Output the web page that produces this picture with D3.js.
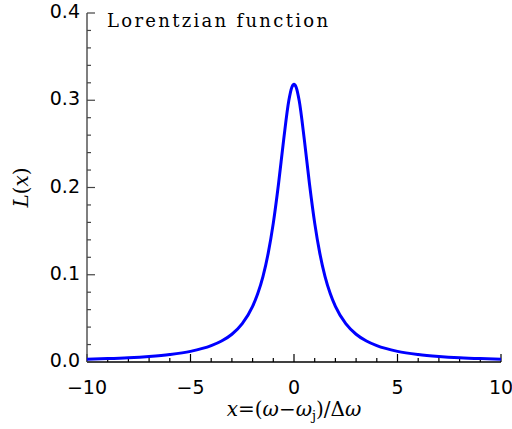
<!DOCTYPE html>
<meta charset="utf-8">
<script src="https://d3js.org/d3.v7.min.js"></script>
<style>
    body { margin: 0; background: #fff; }
    text { fill: #000; }
</style>
<div id="my_dataviz"></div>
<script>
    // values
    var xValues = [-10, -9, -8, -7, -6, -5, -4, -3.5, -3, -2.5, -2, -1.75, -1.5, -1.25, -1, -0.75, -0.5, -0.25, -0.1, 0,
        0.1, 0.25, 0.5, 0.75, 1, 1.25, 1.5, 1.75, 2, 2.5, 3, 3.5, 4, 5, 6, 7, 8, 9, 10];
    var yValues = [0.0032, 0.0039, 0.0049, 0.0064, 0.0086, 0.0122, 0.0187, 0.0240, 0.0318, 0.0439, 0.0637, 0.0784, 0.0979, 0.1242, 0.1592, 0.2037, 0.2546, 0.2996, 0.3152, 0.3183,
        0.3152, 0.2996, 0.2546, 0.2037, 0.1592, 0.1242, 0.0979, 0.0784, 0.0637, 0.0439, 0.0318, 0.0240, 0.0187, 0.0122, 0.0086, 0.0064, 0.0049, 0.0039, 0.0032];
    var xTicks = [-10, -5, 0, 5, 10];
    var yTicks = [0.0, 0.1, 0.2, 0.3, 0.4];
    var title = "Lorentzian function";

    var margin = { top: 13, right: 11, bottom: 67, left: 87 },
        width = 512 - margin.left - margin.right,
        height = 429 - margin.top - margin.bottom;

    var svg = d3.select("#my_dataviz")
        .append("svg")
        .attr("width", 512)
        .attr("height", 429)
        .append("g")
        .attr("transform", "translate(" + margin.left + "," + margin.top + ")");

    var x = d3.scaleLinear().domain([-10, 10]).range([0, width]);
    var y = d3.scaleLinear().domain([0, 0.4]).range([height, 0]);

    // minor ticks
    var xMinor = d3.range(-10, 10.01, 1);
    var yMinor = d3.range(0, 0.401, 0.02);

    var gx = svg.append("g").attr("transform", "translate(0," + height + ")");
    gx.append("line").attr("x1", 0).attr("x2", width).attr("stroke", "#000").attr("stroke-width", 1.5);
    gx.selectAll(".minor").data(xMinor).enter().append("line")
        .attr("x1", d => x(d)).attr("x2", d => x(d))
        .attr("y1", 0).attr("y2", (d, i) => i % 5 === 0 ? -8 : -4)
        .attr("stroke", "#000").attr("stroke-width", 1.2);
    gx.selectAll(".lab").data(xTicks).enter().append("text")
        .attr("x", d => x(d)).attr("y", 32)
        .attr("text-anchor", "middle")
        .style("font-family", "DejaVu Sans").style("font-size", "19px")
        .text(d => d < 0 ? "\u2212" + Math.abs(d) : d);

    var gy = svg.append("g");
    gy.append("line").attr("y1", 0).attr("y2", height).attr("stroke", "#555").attr("stroke-width", 1.5);
    gy.selectAll(".minor").data(yMinor).enter().append("line")
        .attr("y1", d => y(d)).attr("y2", d => y(d))
        .attr("x1", 0).attr("x2", (d, i) => i % 5 === 0 ? 8 : 4)
        .attr("stroke", "#444").attr("stroke-width", 1.2);
    gy.selectAll(".lab").data(yTicks).enter().append("text")
        .attr("x", -7).attr("y", d => y(d) + 5)
        .attr("text-anchor", "end")
        .style("font-family", "DejaVu Sans").style("font-size", "19px")
        .text(d => d.toFixed(1));

    // curve
    var pts = xValues.map((v, i) => [v, yValues[i]]);
    svg.append("path")
        .datum(pts)
        .attr("fill", "none")
        .attr("stroke", "#0000ff")
        .attr("stroke-width", 3)
        .attr("stroke-linejoin", "round")
        .attr("d", d3.line().x(d => x(d[0])).y(d => y(d[1])).curve(d3.curveMonotoneX));

    // title
    svg.append("text")
        .attr("x", 20).attr("y", 14)
        .attr("textLength", 221)
        .style("font-family", "DejaVu Serif").style("font-size", "18px")
        .text(title);

    // axis labels
    var xl = svg.append("text")
        .attr("x", x(0)).attr("y", height + 54)
        .attr("text-anchor", "middle")
        .style("font-family", "DejaVu Serif").style("font-size", "20px");
    xl.append("tspan").style("font-style", "italic").text("x");
    xl.append("tspan").text("=(");
    xl.append("tspan").style("font-style", "italic").text("\u03c9");
    xl.append("tspan").text("\u2212");
    xl.append("tspan").style("font-style", "italic").text("\u03c9");
    xl.append("tspan").attr("dy", 4).style("font-size", "13px").text("j");
    xl.append("tspan").attr("dy", -4).text(")/\u0394");
    xl.append("tspan").style("font-style", "italic").text("\u03c9");

    var yl = svg.append("text")
        .attr("transform", "translate(" + (-59) + "," + y(0.2) + ") rotate(-90)")
        .attr("text-anchor", "middle")
        .style("font-family", "DejaVu Serif").style("font-size", "20px");
    yl.append("tspan").style("font-style", "italic").text("L");
    yl.append("tspan").text("(");
    yl.append("tspan").style("font-style", "italic").text("x");
    yl.append("tspan").text(")");
</script>
